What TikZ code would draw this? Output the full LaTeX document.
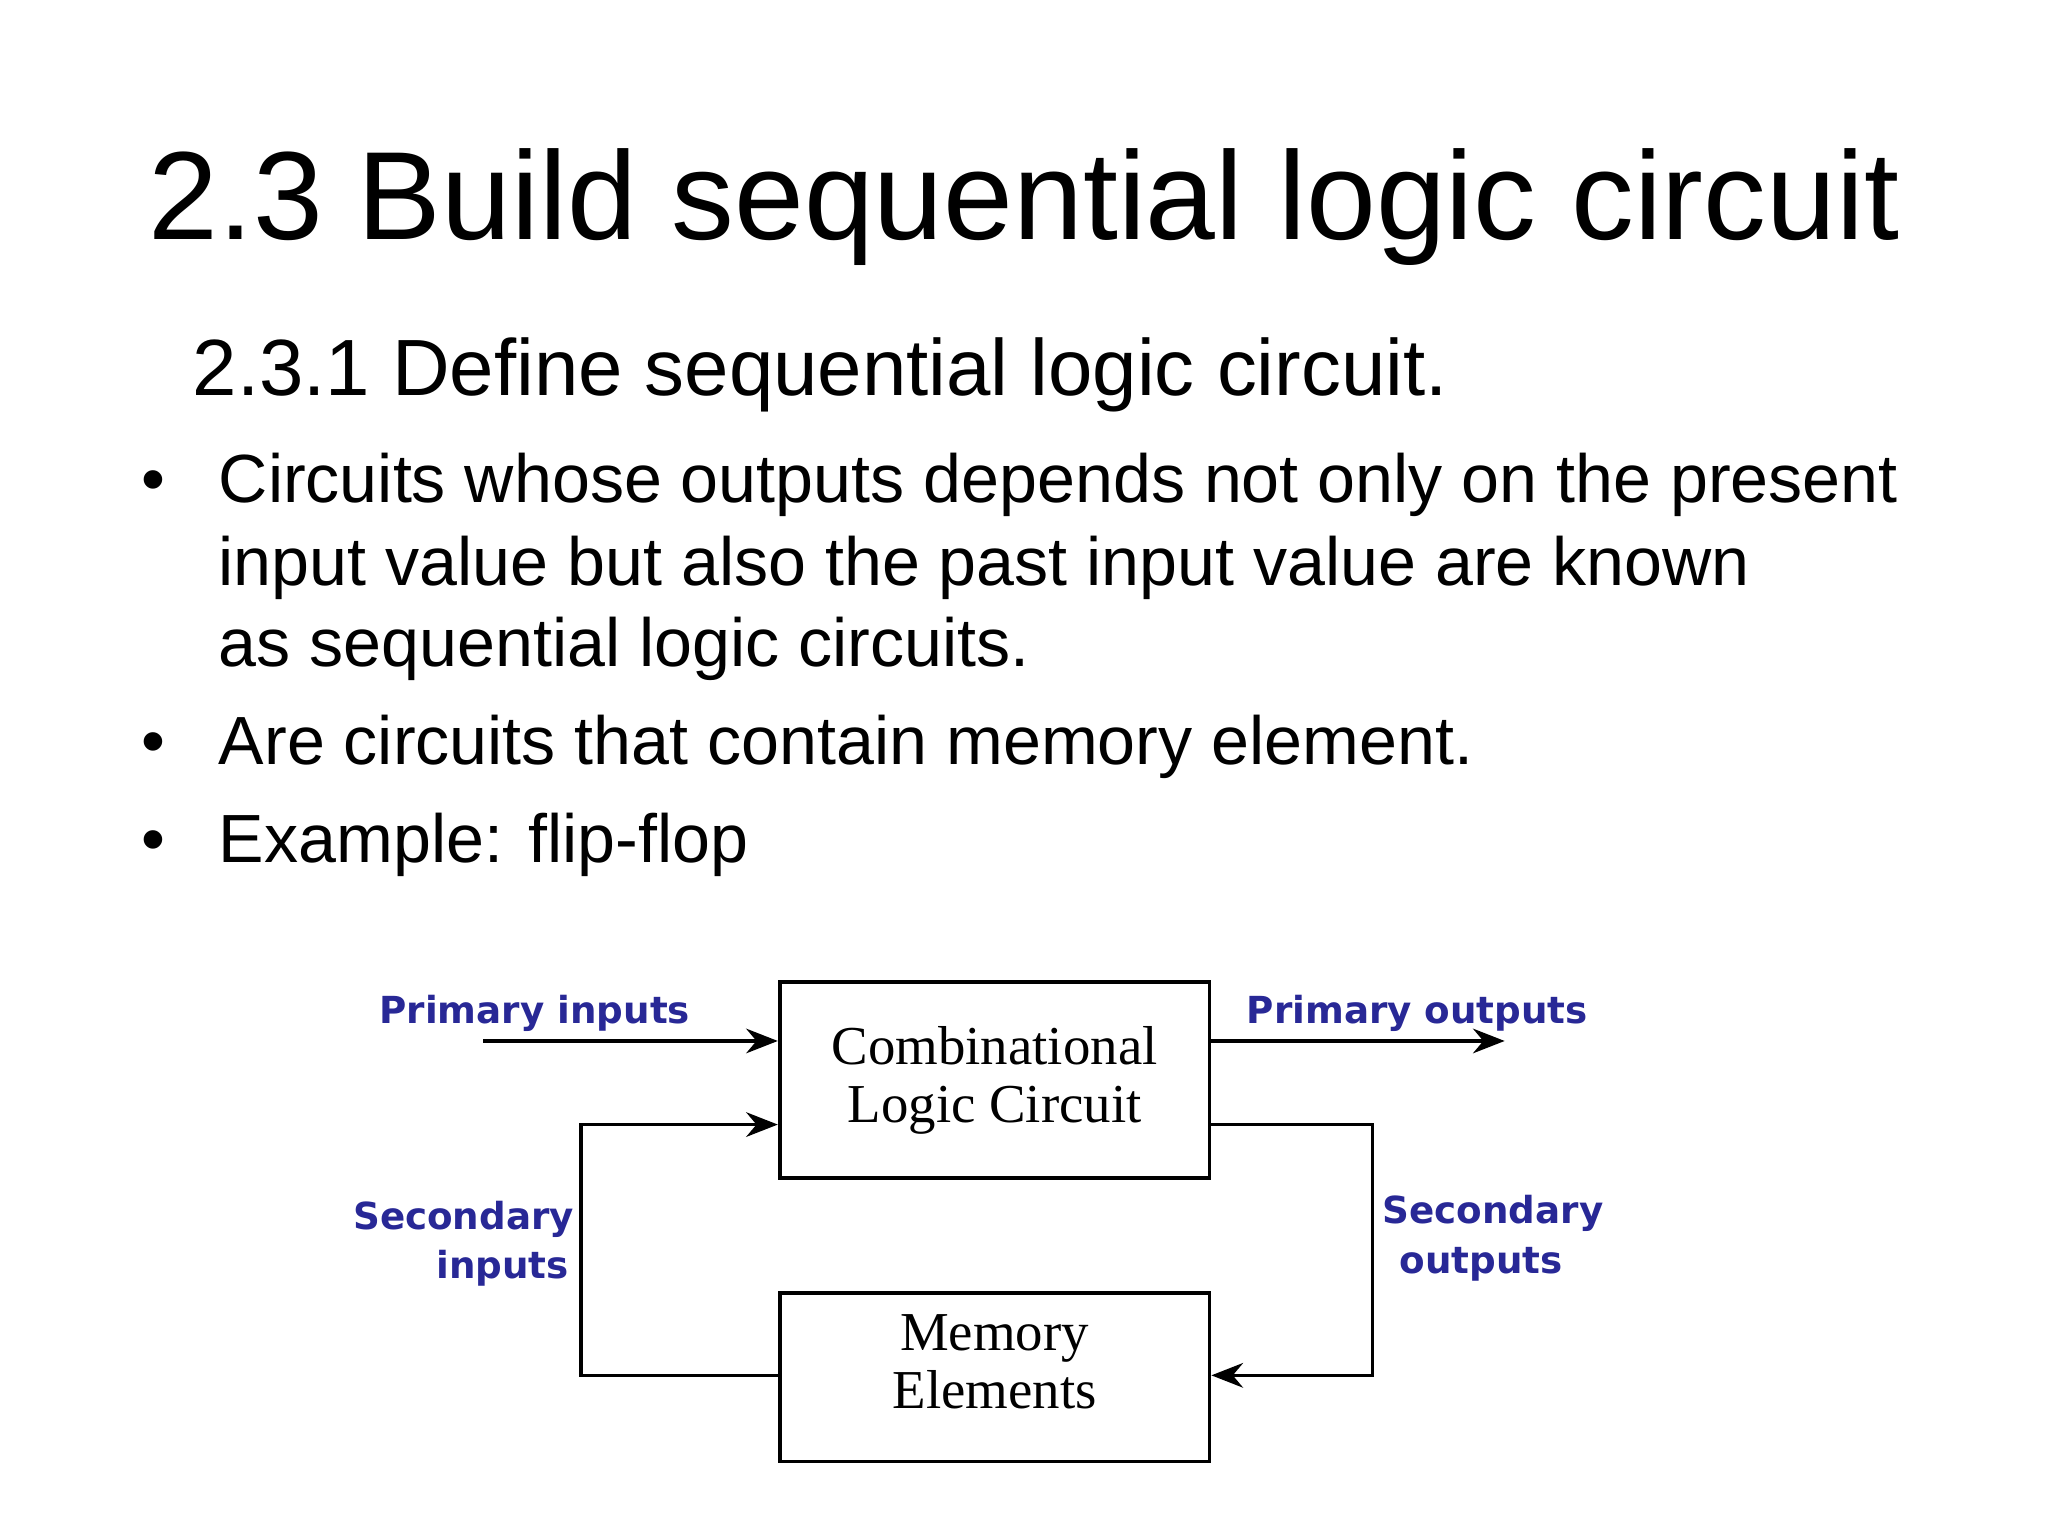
\documentclass[tikz,border=0pt]{standalone}
\usepackage{fontspec}
\setmainfont{Liberation Sans}
\newfontfamily\serifd{Liberation Serif}
\newfontfamily\lab{DejaVu Sans}
\usetikzlibrary{arrows.meta}
\definecolor{lblue}{RGB}{40,40,150}
\begin{document}
\begin{tikzpicture}[x=0.01306cm,y=-0.01306cm,
  box/.style={draw,line width=1.1pt,minimum width=329*0.01306cm,font=\serifd\fontsize{15.6}{16.5}\selectfont,align=center,inner sep=0},
  lbl/.style={text=lblue,font=\lab\fontsize{10.6}{12}\selectfont\bfseries,inner sep=0},
  arr/.style={line width=1pt,-{Stealth[length=9pt,width=7pt]}},
  txt/.style={anchor=base west,inner sep=0,font=\fontsize{19.4}{24}\selectfont}]
\useasboundingbox (0,0) rectangle (1568,1176);
\node[anchor=base,inner sep=0,font=\fontsize{35.7}{44}\selectfont] (title) at (784,183) {2.3 Build sequential logic circuit};
\node[anchor=base west,inner sep=0,font=\fontsize{22.7}{28}\selectfont] (sub) at (147,303) {2.3.1 Define sequential logic circuit.};
\foreach \y/\t [count=\i] in {385/{Circuits whose outputs depends not only on the present},448/{input value but also the past input value are known},510/{as sequential logic circuits.},585/{Are circuits that contain memory element.},660/{Example: flip-flop}}
  \node[txt] (l\i) at (167,\y) {\t};
\foreach \y [count=\i] in {385,585,660} \node[txt] (b\i) at (108,\y) {•};
\node[box,minimum height=150*0.01306cm] (comb) at (761.5,827) {Combinational\\Logic Circuit};
\node[box,minimum height=129*0.01306cm] (mem) at (761.5,1054.5) {};
\node[box,draw=none,minimum width=0pt] (memt) at (761.5,1043) {Memory\\Elements};
\coordinate (pi) at (370,797);
\coordinate (po) at (1152,797);
\coordinate (sl1) at (445,1053); \coordinate (sl2) at (445,861);
\coordinate (sr1) at (1051,861); \coordinate (sr2) at (1051,1053);
\draw[arr] (pi) -- (pi -| comb.west);
\draw[arr] (comb.east |- po) -- (po);
\draw[arr] (mem.west |- sl1) -- (sl1) -- (sl2) -- (comb.west |- sl2);
\draw[arr] (comb.east |- sr1) -- (sr1) -- (sr2) -- (mem.east |- sr2);
\node[lbl,anchor=base west] (lpi) at (290,784) {Primary inputs};
\node[lbl,anchor=base west] (lpo) at (954,784) {Primary outputs};
\node[lbl,anchor=base east] (lsi) at (440,941) {Secondary};
\node[lbl,anchor=base east] (lsi2) at (436,979) {inputs};
\node[lbl,anchor=base west] (lso) at (1058,937) {Secondary};
\node[lbl,anchor=base west] (lso2) at (1071,975) {outputs};
\end{tikzpicture}
\end{document}
